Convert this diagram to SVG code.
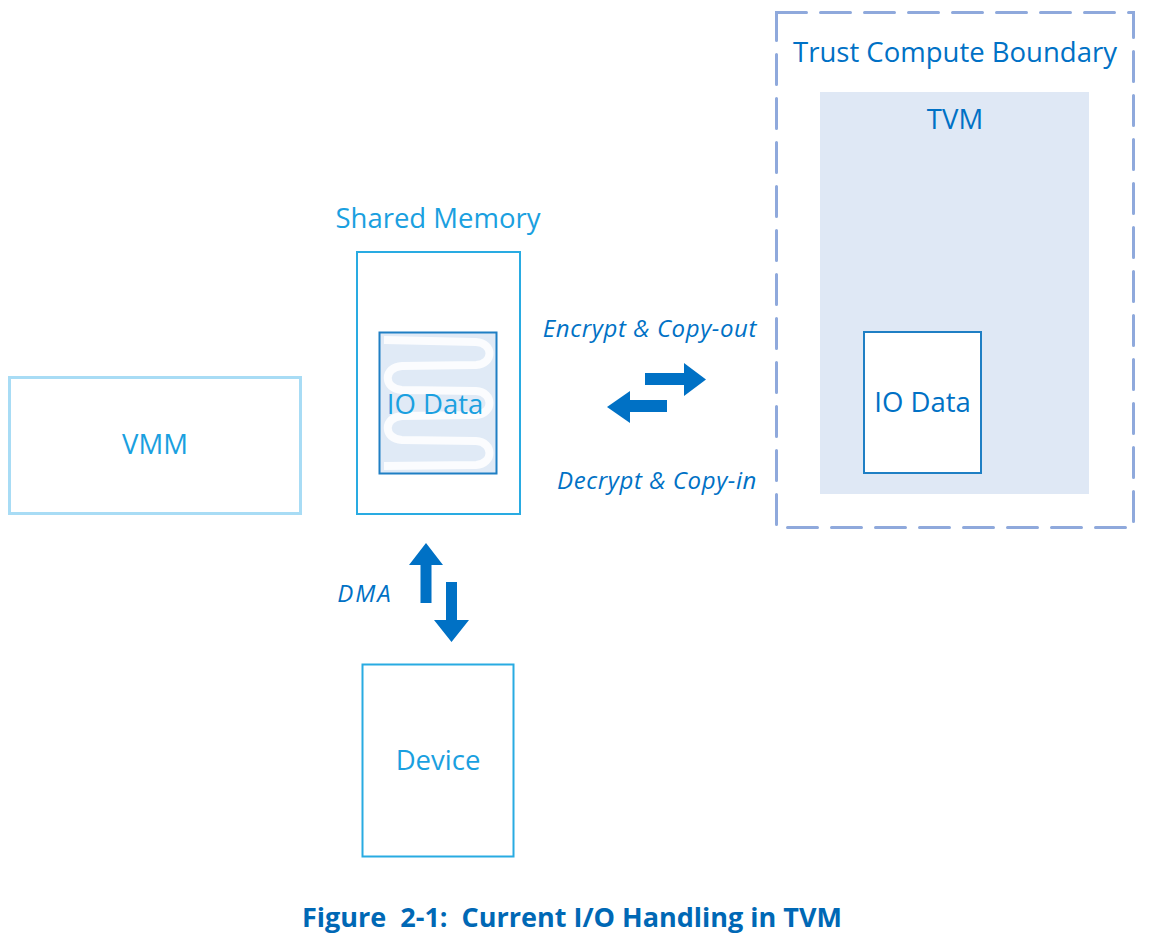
<svg xmlns="http://www.w3.org/2000/svg" width="1149" height="941" viewBox="0 0 1149 941">
<style>
.lbl{font-family:"Open Sans","Noto Sans",sans-serif;font-size:27.5px;text-anchor:middle}
.lt{fill:#1aa0e0}
.dk{fill:#0071c5}
.it{font-family:"Open Sans","Noto Sans",sans-serif;font-size:24px;font-style:italic;fill:#0071c5;letter-spacing:0.6px}
.arrow{fill:#0071c5}
</style>
<rect width="1149" height="941" fill="#ffffff"/>
<g id="tcb">
<rect x="776.5" y="12.5" width="357" height="515" fill="none" stroke="#8fa9dc" stroke-width="3" stroke-dasharray="30 14" stroke-linecap="round"/>
<text class="lbl dk" x="955" y="62">Trust Compute Boundary</text>
</g>
<g id="tvm">
<rect x="820" y="92" width="269" height="402" fill="#dfe8f5"/>
<text class="lbl dk" x="955" y="129">TVM</text>
</g>
<g id="tvm-io">
<rect x="864" y="332" width="117" height="141" fill="#ffffff" stroke="#1f7fc4" stroke-width="2"/>
<text class="lbl dk" x="922.5" y="412">IO Data</text>
</g>
<g id="vmm">
<rect x="9.5" y="377.5" width="291" height="136" fill="#ffffff" stroke="#a8dcf5" stroke-width="3"/>
<text class="lbl lt" x="155" y="454">VMM</text>
</g>
<g id="shared">
<text class="lbl lt" x="438" y="228">Shared Memory</text>
<rect x="357" y="252" width="163" height="262" fill="#ffffff" stroke="#29abe2" stroke-width="2"/>
</g>
<g id="shared-io">
<rect x="379.5" y="332.5" width="117" height="141" fill="#e0eaf6" stroke="#1f7fc4" stroke-width="2"/>
<path d="M384 340 L476 342 C494 343,494 364,476 365 L402 366 C383 367,383 389,402 390 L476 391 C494 392,494 414,476 415 L402 416 C383 417,383 439,402 440 L476 441 C494 442,494 464,476 465 L384 466" fill="none" stroke="#ffffff" stroke-width="8" opacity="0.85"/>
<text class="lbl lt" x="435" y="414">IO Data</text>
</g>
<g id="device">
<rect x="362.5" y="664.5" width="151" height="192" fill="#ffffff" stroke="#29abe2" stroke-width="2"/>
<text class="lbl lt" x="438" y="770">Device</text>
</g>
<g id="connectors">
<polygon class="arrow" points="645,373 684,373 684,363 706,379.5 684,396 684,385 645,385"/>
<polygon class="arrow" points="667,400 630,400 630,391 607,407 630,423 630,412 667,412"/>
<polygon class="arrow" points="426,543 443,565 431.5,565 431.5,603 420.5,603 420.5,565 409,565"/>
<polygon class="arrow" points="451.5,642 469,620 457,620 457,582 446,582 446,620 434,620"/>
<text class="it" x="757" y="337" text-anchor="end">Encrypt &amp; Copy-out</text>
<text class="it" x="757" y="489" text-anchor="end">Decrypt &amp; Copy-in</text>
<text class="it" x="365" y="602" text-anchor="middle" style="letter-spacing:2px">DMA</text>
</g>
<text x="572" y="927" font-family="Open Sans, Noto Sans, sans-serif" font-size="27" font-weight="bold" fill="#0068b5" text-anchor="middle" xml:space="preserve">Figure  2-1:  Current I/O Handling in TVM</text>
</svg>
